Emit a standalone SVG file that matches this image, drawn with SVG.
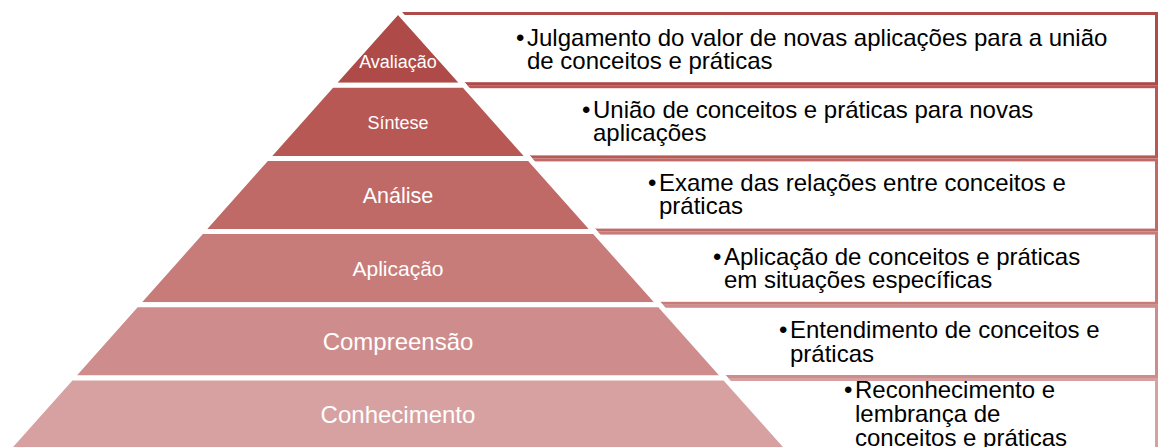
<svg xmlns="http://www.w3.org/2000/svg" width="1160" height="447" viewBox="0 0 1160 447">
<style>
  .box { fill: #ffffff; stroke-width: 3; }
  .lvl { stroke: #ffffff; stroke-width: 5; stroke-linejoin: miter; }
  .lab { fill: #ffffff; font-family: "Liberation Sans", Arial, sans-serif; text-anchor: middle; }
  .txt { fill: #000000; font-family: "Liberation Sans", Arial, sans-serif; font-size: 24px; }
</style>
<rect width="1160" height="447" fill="#ffffff"/>
<g id="connectors"></g>
<g id="level-1">
  <rect class="box" x="398" y="13.5" width="758.5" height="70.2" stroke="#AE4A47"/>
  <polygon class="lvl" fill="#AE4A47" points="398,11.24 463.9,85.2 332.1,85.2"/>
  <text class="lab" x="398" y="67.5" font-size="18">Avaliação</text>
  <text class="txt"><tspan x="516" y="46">•</tspan><tspan x="527" y="46">Julgamento do valor de novas aplicações para a união</tspan><tspan x="527" y="69">de conceitos e práticas</tspan></text>
</g>
<g id="level-2">
  <rect class="box" x="398" y="86.7" width="758.5" height="70.2" stroke="#B85855"/>
  <polygon class="lvl" fill="#B85855" points="332.1,85.2 463.9,85.2 529.12,158.4 266.88,158.4"/>
  <text class="lab" x="398" y="128.5" font-size="18">Síntese</text>
  <text class="txt"><tspan x="582" y="117.5">•</tspan><tspan x="593" y="117.5">União de conceitos e práticas para novas</tspan><tspan x="593" y="140.5">aplicações</tspan></text>
</g>
<g id="level-3">
  <rect class="box" x="398" y="159.9" width="758.5" height="70.2" stroke="#C06A67"/>
  <polygon class="lvl" fill="#C06A67" points="266.88,158.4 529.12,158.4 594.34,231.6 201.66,231.6"/>
  <text class="lab" x="398" y="202.5" font-size="21.5">Análise</text>
  <text class="txt"><tspan x="648" y="191">•</tspan><tspan x="659" y="191">Exame das relações entre conceitos e</tspan><tspan x="659" y="214">práticas</tspan></text>
</g>
<g id="level-4">
  <rect class="box" x="398" y="233.1" width="758.5" height="70.2" stroke="#C77C7A"/>
  <polygon class="lvl" fill="#C77C7A" points="201.66,231.6 594.34,231.6 659.56,304.8 136.44,304.8"/>
  <text class="lab" x="398" y="275.5" font-size="21">Aplicação</text>
  <text class="txt"><tspan x="713" y="264.5">•</tspan><tspan x="724" y="264.5">Aplicação de conceitos e práticas</tspan><tspan x="724" y="288">em situações específicas</tspan></text>
</g>
<g id="level-5">
  <rect class="box" x="398" y="306.3" width="758.5" height="70.2" stroke="#CE8D8C"/>
  <polygon class="lvl" fill="#CE8D8C" points="136.44,304.8 659.56,304.8 724.78,378 71.22,378"/>
  <text class="lab" x="398" y="350" font-size="24">Compreensão</text>
  <text class="txt"><tspan x="779" y="338">•</tspan><tspan x="790" y="338">Entendimento de conceitos e</tspan><tspan x="790" y="361.5">práticas</tspan></text>
</g>
<g id="level-6">
  <rect class="box" x="398" y="379.5" width="758.5" height="80" stroke="#D7A1A1"/>
  <polygon class="lvl" fill="#D7A1A1" points="71.22,378 724.78,378 797.84,460 -1.84,460"/>
  <text class="lab" x="398" y="422.5" font-size="24">Conhecimento</text>
  <text class="txt"><tspan x="844" y="397.5">•</tspan><tspan x="855" y="397.5">Reconhecimento e</tspan><tspan x="855" y="421.5">lembrança de</tspan><tspan x="855" y="445.5">conceitos e práticas</tspan></text>
</g>
</svg>
